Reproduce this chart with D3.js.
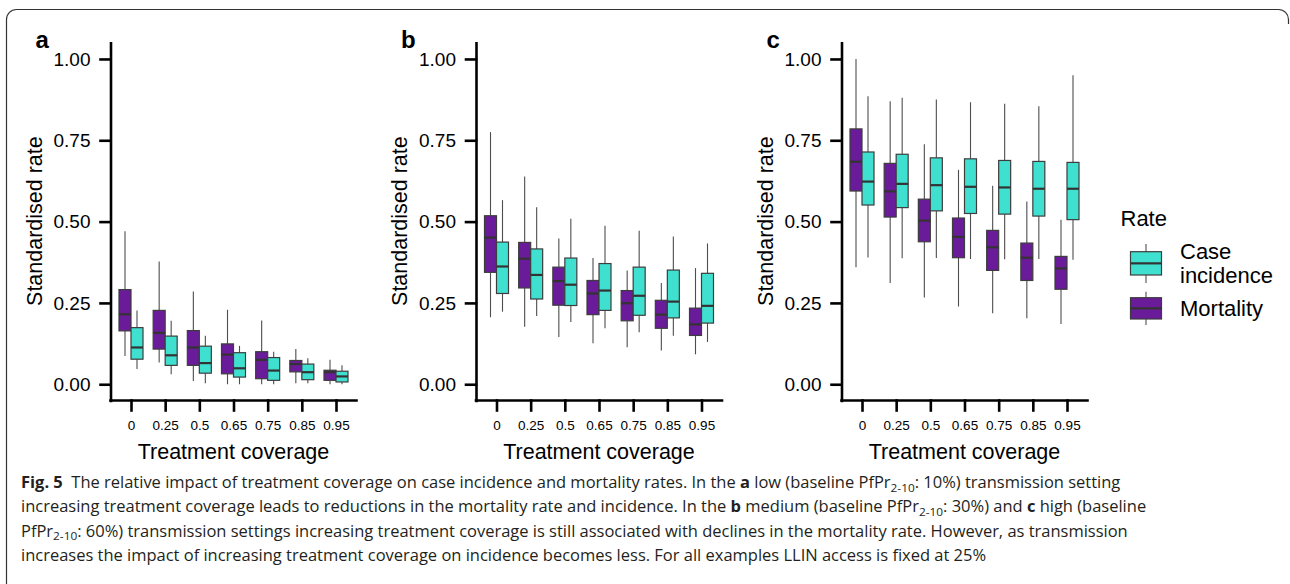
<!DOCTYPE html>
<html>
<head>
<meta charset="utf-8">
<script src="https://cdn.jsdelivr.net/npm/d3@7"></script>
<style>
body { margin:0; background:#fff; }
svg { display:block; }
.axis text { font-family:"Liberation Sans", Arial, sans-serif; fill:#000; }
.axis path, .axis line { stroke:#000; stroke-width:2.6; stroke-linecap:square; }
.label { font-family:"Liberation Sans", Arial, sans-serif; fill:#000; }
.caption { font-family:"Open Sans", sans-serif; fill:#231f20; }
</style>
</head>
<body>
<svg id="fig5"></svg>
<script>
// coverage levels on the x axis
var coverage = ["0","0.25","0.5","0.65","0.75","0.85","0.95"];
var yTicks = [0,0.25,0.5,0.75,1];
var seriesNames = ["Mortality","Case incidence"];
var panelLabels = ["a","b","c"];

// each box: [lower whisker, lower hinge, median, upper hinge, upper whisker]
var lowMortality = [[0.087,0.164,0.215,0.291,0.47],[0.067,0.108,0.158,0.227,0.377],[0.01,0.058,0.113,0.165,0.285],[0,0.032,0.091,0.124,0.229],[0,0.017,0.075,0.1,0.196],[0.003,0.038,0.062,0.073,0.108],[0,0.012,0.037,0.043,0.075]];
var lowIncidence = [[0.047,0.077,0.113,0.174,0.227],[0.031,0.058,0.089,0.148,0.195],[0.003,0.034,0.065,0.117,0.149],[0,0.022,0.049,0.097,0.118],[0,0.012,0.042,0.082,0.1],[0.003,0.014,0.037,0.062,0.08],[0,0.007,0.024,0.04,0.058]];
var medMortality = [[0.206,0.344,0.451,0.518,0.775],[0.177,0.296,0.386,0.436,0.639],[0.145,0.243,0.317,0.36,0.448],[0.126,0.214,0.279,0.319,0.388],[0.114,0.195,0.249,0.288,0.35],[0.104,0.172,0.214,0.258,0.311],[0.092,0.15,0.184,0.234,0.357]];
var medIncidence = [[0.223,0.279,0.362,0.437,0.566],[0.21,0.262,0.336,0.416,0.544],[0.191,0.242,0.306,0.388,0.509],[0.172,0.227,0.288,0.371,0.487],[0.16,0.212,0.272,0.36,0.472],[0.149,0.204,0.254,0.351,0.454],[0.13,0.188,0.241,0.341,0.433]];
var highMortality = [[0.36,0.594,0.684,0.785,1.0],[0.311,0.514,0.593,0.679,0.87],[0.267,0.438,0.503,0.569,0.738],[0.239,0.389,0.453,0.511,0.659],[0.218,0.35,0.421,0.473,0.61],[0.203,0.319,0.389,0.434,0.562],[0.185,0.292,0.356,0.393,0.506]];
var highIncidence = [[0.39,0.551,0.623,0.714,0.885],[0.387,0.543,0.616,0.707,0.881],[0.388,0.533,0.612,0.696,0.875],[0.385,0.525,0.607,0.693,0.867],[0.384,0.523,0.605,0.688,0.862],[0.385,0.517,0.601,0.685,0.855],[0.383,0.506,0.601,0.682,0.95]];

var colors = {"Mortality":"#6a1b9a","Case incidence":"#40e0d0"};

var makeTranslateString = function(x,y)
{
    return "translate("+x+","+y+")";
}

//draws one panel, left is where its y axis sits
var drawPanel = function(svg, left, label, mortality, incidence)
{
    var graph = {top:42.7, bottom:400.5, width:246};

    var xScale = d3.scalePoint()
        .domain(coverage)
        .range([0,graph.width])
        .padding(0.6)

    var dodge = d3.scaleBand()
        .domain(seriesNames)
        .range([-12,12])

    var yScale = d3.scaleLinear()
        .domain([-0.05,1.05])
        .range([graph.bottom,graph.top])

    var panel = svg.append("g")
        .attr("transform",makeTranslateString(left,0))

    // boxes
    var series = [{name:"Mortality",values:mortality},{name:"Case incidence",values:incidence}];
    series.forEach(function(s)
    {
        var boxes = panel.append("g")
            .selectAll("g")
            .data(s.values)
            .enter()
            .append("g")
            .attr("transform",function(d,i)
                  { return makeTranslateString(xScale(coverage[i])+dodge(s.name)+dodge.bandwidth()/2,0)})

        boxes.append("line")
            .attr("y1",function(d){return yScale(d[0])})
            .attr("y2",function(d){return yScale(d[1])})
            .attr("stroke","#4d4d4d").attr("stroke-width",1.1)
        boxes.append("line")
            .attr("y1",function(d){return yScale(d[3])})
            .attr("y2",function(d){return yScale(d[4])})
            .attr("stroke","#4d4d4d").attr("stroke-width",1.1)
        boxes.append("rect")
            .attr("x",-dodge.bandwidth()/2)
            .attr("width",dodge.bandwidth())
            .attr("y",function(d){return yScale(d[3])})
            .attr("height",function(d){return yScale(d[1])-yScale(d[3])})
            .attr("fill",colors[s.name])
            .attr("stroke","#3d3d3d").attr("stroke-width",1.2)
        boxes.append("line")
            .attr("x1",-dodge.bandwidth()/2)
            .attr("x2",dodge.bandwidth()/2)
            .attr("y1",function(d){return yScale(d[2])})
            .attr("y2",function(d){return yScale(d[2])})
            .attr("stroke","#333").attr("stroke-width",2.2)
    })

    // axes
    var yAxis = d3.axisLeft(yScale)
        .tickValues(yTicks)
        .tickFormat(d3.format(".2f"))
        .tickSize(10).tickSizeOuter(0).tickPadding(10)
    var xAxis = d3.axisBottom(xScale)
        .tickSize(10).tickSizeOuter(0).tickPadding(10)

    panel.append("g")
        .classed("axis",true)
        .call(yAxis)
        .selectAll("text").style("font-size","19px")

    var xa = panel.append("g")
        .classed("axis",true)
        .attr("transform",makeTranslateString(0,graph.bottom))
        .call(xAxis)
    xa.select(".domain").attr("d","M0,0H"+graph.width)
    xa.selectAll("text").style("font-size","13.5px")

    // labels
    panel.append("text")
        .classed("label",true)
        .text("Treatment coverage")
        .attr("text-anchor","middle")
        .attr("x",graph.width/2)
        .attr("y",459)
        .style("font-size","21.5px")

    panel.append("g")
        .attr("transform",makeTranslateString(-69,(graph.top+graph.bottom)/2 - 0.5))
        .append("text")
        .classed("label",true)
        .text("Standardised rate")
        .attr("text-anchor","middle")
        .attr("transform","rotate(270)")
        .style("font-size","21.5px")

    panel.append("text")
        .classed("label",true)
        .text(label)
        .attr("x",-75)
        .attr("y",48)
        .style("font-size","24px")
        .style("font-weight","bold")
}

var drawLegend = function(svg)
{
    var legend = svg.append("g")
        .attr("transform",makeTranslateString(1130.5,0))

    legend.append("text")
        .classed("label",true)
        .text("Rate")
        .attr("x",-10)
        .attr("y",226)
        .style("font-size","22px")

    var keys = [
        {name:"Case incidence", lines:["Case","incidence"], top:244, bottom:283, boxTop:251.7, boxBottom:275},
        {name:"Mortality", lines:["Mortality"], top:291.7, bottom:325, boxTop:297.7, boxBottom:319}
    ];

    var entries = legend.selectAll("g")
        .data(keys)
        .enter()
        .append("g")

    entries.append("line")
        .attr("x1",15.5).attr("x2",15.5)
        .attr("y1",function(k){return k.top})
        .attr("y2",function(k){return k.bottom})
        .attr("stroke","#4d4d4d").attr("stroke-width",1.1)
    entries.append("rect")
        .attr("width",31)
        .attr("y",function(k){return k.boxTop})
        .attr("height",function(k){return k.boxBottom-k.boxTop})
        .attr("fill",function(k){return colors[k.name]})
        .attr("stroke","#3d3d3d").attr("stroke-width",1.2)
    entries.append("line")
        .attr("x1",0).attr("x2",31)
        .attr("y1",function(k){return (k.boxTop+k.boxBottom)/2})
        .attr("y2",function(k){return (k.boxTop+k.boxBottom)/2})
        .attr("stroke","#333").attr("stroke-width",2.2)
    entries.each(function(k)
    {
        var t = d3.select(this).append("text")
            .classed("label",true)
            .style("font-size","22px")
        k.lines.forEach(function(line,i)
        {
            t.append("tspan")
                .attr("x",49.5)
                .attr("y",(k.lines.length==2 ? 259.3 : 315.5) + i*24)
                .text(line)
        })
    })
}

// caption below the figure
var drawCaption = function(svg)
{
    var lines = [
        [["Fig. 5","b"],["  The relative impact of treatment coverage on case incidence and mortality rates. In the "],["a","b"],[" low (baseline PfPr"],["2-10","sub"],[": 10%) transmission setting"]],
        [["increasing treatment coverage leads to reductions in the mortality rate and incidence. In the "],["b","b"],[" medium (baseline PfPr"],["2-10","sub"],[": 30%) and "],["c","b"],[" high (baseline"]],
        [["PfPr"],["2-10","sub"],[": 60%) transmission settings increasing treatment coverage is still associated with declines in the mortality rate. However, as transmission"]],
        [["increases the impact of increasing treatment coverage on incidence becomes less. For all examples LLIN access is fixed at 25%"]]
    ];
    var texts = [];
    lines.forEach(function(segs,i)
    {
        var t = svg.append("text")
            .classed("caption",true)
            .style("font-size","16px")
            .attr("xml:space","preserve")
        var shift = 0;
        segs.forEach(function(s)
        {
            var ts = t.append("tspan").text(s[0])
            if (s[1]=="b") ts.style("font-weight","bold")
            if (s[1]=="sub") { ts.attr("dy",3.5).style("font-size","11.5px"); shift = 3.5; }
            else if (shift) { ts.attr("dy",-shift); shift = 0; }
        })
        texts.push({node:t, y:488 + i*24.3});
    })
    var k = 1100 / texts[0].node.node().getComputedTextLength();
    texts.forEach(function(t)
    {
        t.node.attr("transform",makeTranslateString(21,t.y)+" scale("+k+",1)")
    })
}

var initFigure = function()
{
    var screen = {width:1290,height:584};
    var svg = d3.select("#fig5")
        .attr("width",screen.width)
        .attr("height",screen.height)

    // frame
    svg.append("path")
        .attr("d","M6.5,584V19.5A10,10 0 0 1 16.5,9.5H1278.5A10,10 0 0 1 1288.5,19.5V24")
        .attr("fill","none")
        .attr("stroke","#333")
        .attr("stroke-width",1.2)

    var panels = [[lowMortality,lowIncidence],[medMortality,medIncidence],[highMortality,highIncidence]];
    panels.forEach(function(p,i)
    {
        drawPanel(svg, 110.5 + i*365.5, panelLabels[i], p[0], p[1]);
    })
    drawLegend(svg);
    drawCaption(svg);
}

initFigure();
</script>
</body>
</html>
